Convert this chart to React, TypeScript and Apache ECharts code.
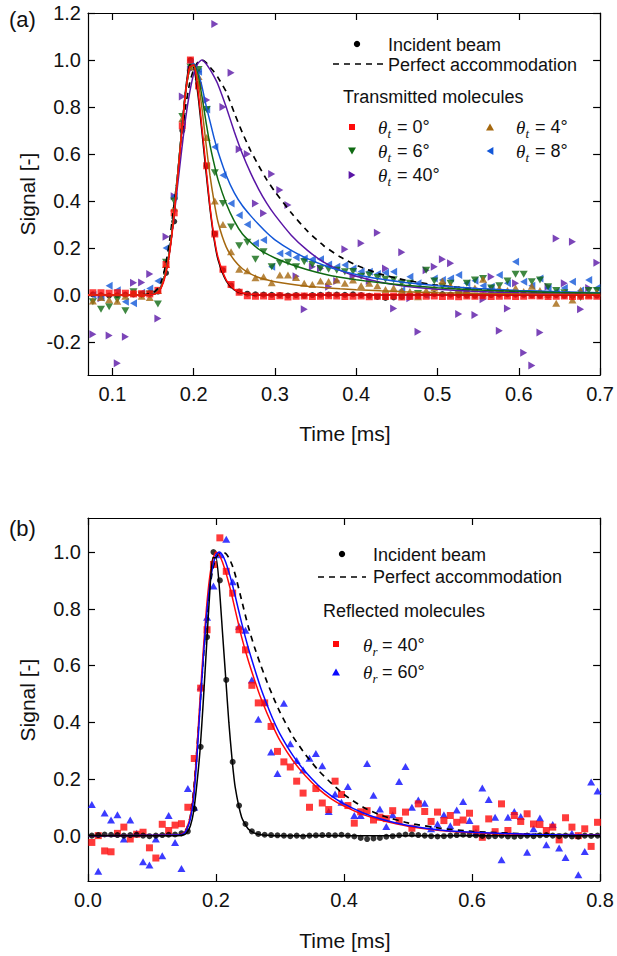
import React, { useEffect, useRef } from 'react';
import * as echarts from 'echarts';

// ---------------- Panel (a): transmitted molecules ----------------
const timeA = [
  0.076, 0.086, 0.096, 0.106, 0.116, 0.126, 0.136, 0.146, 0.156, 0.166,
  0.176, 0.186, 0.196, 0.206, 0.216, 0.226, 0.236, 0.246, 0.256, 0.266,
  0.276, 0.286, 0.296, 0.306, 0.316, 0.326, 0.336, 0.346, 0.356, 0.366,
  0.376, 0.386, 0.396, 0.406, 0.416, 0.426, 0.436, 0.446, 0.456, 0.466,
  0.476, 0.486, 0.496, 0.506, 0.516, 0.526, 0.536, 0.546, 0.556, 0.566,
  0.576, 0.586, 0.596, 0.606, 0.616, 0.626, 0.636, 0.646, 0.656, 0.666,
  0.676, 0.686, 0.696,
];
const theta0 = [
  0.01, 0.01, 0.008, 0.01, 0.008, 0.005, 0.006, 0.005,
  0.02, 0.13, 0.35, 0.72, 1.0, 0.89, 0.55, 0.26, 0.11, 0.045, 0.012, -0.003,
  -0.005, -0.004, -0.006, -0.003, -0.008, -0.005, -0.004, -0.006, -0.005, -0.003,
  -0.004, -0.006, -0.005, -0.004, -0.007, -0.005, -0.006, -0.004, -0.008, -0.006,
  -0.003, -0.005, -0.004, -0.006, -0.005, -0.007, -0.004, -0.005, -0.003, -0.006,
  -0.005, -0.004, -0.006, -0.005, -0.003, -0.004, -0.006, -0.005, -0.004, -0.006,
  -0.005, -0.004, -0.005,
];
const theta4 = [
  -0.025, -0.01, -0.02, -0.026, -0.005, 0.01, -0.005, -0.01,
  0.02, 0.13, 0.37, 0.75, 0.97, 0.93, 0.67, 0.4, 0.3, 0.184, 0.11, 0.104,
  0.074, 0.078, 0.052, 0.085, 0.085, 0.075, 0.05, 0.045, 0.06, 0.058,
  0.064, 0.05, 0.064, 0.04, 0.05, 0.04, 0.024, 0.03, 0.02, 0.015,
  -0.007, 0.02, 0.03, 0.06, 0.04, 0.025, 0.02, 0.03, 0.067, 0.02,
  0.028, 0.02, 0.03, 0.015, 0.038, 0.02, 0.005, -0.035, 0.01, -0.021,
  0.021, 0.0, 0.01,
];
const theta6 = [
  -0.028, -0.06, -0.05, -0.02, -0.067, 0.014, 0.0, 0.005,
  -0.038, 0.14, 0.4, 0.76, 0.97, 0.96, 0.79, 0.52, 0.39, 0.29, 0.21, 0.225,
  0.152, 0.184, 0.12, 0.135, 0.14, 0.12, 0.142, 0.13, 0.113, 0.11,
  0.106, 0.099, 0.1, 0.08, 0.085, 0.075, 0.067, 0.065, 0.05, 0.05,
  0.007, 0.106, 0.06, 0.038, 0.05, 0.0, 0.05, 0.064, 0.07, 0.03,
  0.04, 0.06, 0.089, 0.089, 0.057, 0.064, 0.035, 0.02, 0.01, -0.007,
  -0.01, 0.02, 0.02,
];
const theta8 = [
  0.0, -0.01, 0.04, 0.021, -0.028, -0.035, 0.01, 0.028,
  0.06, 0.2, 0.42, 0.74, 0.99, 0.95, 0.79, 0.63, 0.51, 0.39, 0.34, 0.3,
  0.22, 0.234, 0.12, 0.177, 0.177, 0.16, 0.156, 0.152, 0.152, 0.13,
  0.12, 0.128, 0.113, 0.1, 0.099, 0.09, 0.095, 0.099, 0.021, 0.078,
  0.05, 0.0, 0.071, 0.064, 0.07, 0.085, 0.05, 0.061, 0.04, 0.035,
  0.085, 0.05, 0.142, 0.057, 0.04, 0.071, 0.03, 0.014, 0.03, 0.057,
  0.02, 0.064, 0.03,
];
const theta40 = [
  -0.167, -0.014, -0.172, -0.29, -0.177, 0.052, 0.054, 0.09,
  -0.1, 0.248, 0.42, 0.845, 0.96, 0.95, 0.83, 1.153, 0.8, 0.946, 0.62, 0.6,
  0.39, 0.348, 0.515, 0.447, 0.383, 0.08, -0.06, 0.12, 0.113, 0.035,
  0.06, 0.195, 0.08, 0.22, 0.06, 0.265, 0.113, -0.057, 0.182, -0.014,
  -0.156, 0.106, 0.12, 0.152, 0.135, -0.081, 0.02, -0.085, -0.018, 0.078,
  -0.152, -0.057, 0.05, -0.245, -0.3, -0.159, 0.035, 0.241, 0.05, 0.227,
  -0.06, 0.03, 0.137,
];

const fitTimeA = [
  0.07, 0.14, 0.15, 0.155, 0.16, 0.165, 0.17, 0.175, 0.18, 0.185,
  0.19, 0.195, 0.2, 0.205, 0.21, 0.215, 0.22, 0.225, 0.23,
  0.24, 0.25, 0.26, 0.27, 0.28, 0.29, 0.3, 0.32, 0.34, 0.36,
  0.38, 0.4, 0.43, 0.46, 0.5, 0.55, 0.6, 0.65, 0.7,
];
const fitIncidentA = [
  0, 0, 0.003, 0.012, 0.035, 0.09, 0.18, 0.32, 0.5, 0.69, 0.87, 0.98, 0.97, 0.86, 0.7, 0.53, 0.37, 0.24, 0.15,
  0.06, 0.022, 0.008, 0.002, 0, 0, 0, 0, 0, 0, 0, 0, 0, 0, 0, 0, 0, 0, 0,
];
const fitTheta0 = [
  0, 0, 0.002, 0.01, 0.03, 0.08, 0.17, 0.31, 0.49, 0.68, 0.86, 0.97, 0.98, 0.88, 0.72, 0.55, 0.38, 0.25, 0.16,
  0.065, 0.024, 0.009, 0.003, 0, 0, 0, 0, 0, 0, 0, 0, 0, 0, 0, 0, 0, 0, 0,
];
const fitTheta4 = [
  0, 0, 0.003, 0.012, 0.035, 0.09, 0.18, 0.32, 0.5, 0.69, 0.86, 0.96, 0.975, 0.92, 0.8, 0.65, 0.51, 0.4, 0.31,
  0.205, 0.148, 0.112, 0.09, 0.075, 0.065, 0.057, 0.046, 0.038, 0.032, 0.027, 0.023, 0.018, 0.014, 0.01, 0.007, 0.005, 0.003, 0.002,
];
const fitTheta6 = [
  0, 0, 0.003, 0.012, 0.035, 0.09, 0.18, 0.32, 0.5, 0.69, 0.86, 0.96, 0.98, 0.94, 0.85, 0.74, 0.64, 0.56, 0.49,
  0.39, 0.315, 0.26, 0.225, 0.195, 0.175, 0.158, 0.13, 0.108, 0.09, 0.076, 0.065, 0.052, 0.042, 0.031, 0.022, 0.016, 0.011, 0.008,
];
const fitTheta8 = [
  0, 0, 0.003, 0.012, 0.035, 0.09, 0.18, 0.32, 0.5, 0.69, 0.86, 0.96, 0.985, 0.95, 0.89, 0.81, 0.74, 0.67, 0.61,
  0.51, 0.435, 0.38, 0.338, 0.3, 0.265, 0.235, 0.19, 0.155, 0.127, 0.105, 0.088, 0.068, 0.054, 0.04, 0.028, 0.02, 0.014, 0.01,
];
const fitTheta40 = [
  0, 0, 0.003, 0.012, 0.035, 0.09, 0.18, 0.31, 0.46, 0.61, 0.75, 0.86, 0.94, 0.985, 1.0, 0.985, 0.96, 0.93, 0.895,
  0.8, 0.695, 0.6, 0.52, 0.45, 0.39, 0.34, 0.255, 0.19, 0.14, 0.105, 0.08, 0.055, 0.038, 0.025, 0.015, 0.01, 0.006, 0.004,
];
const fitPerfectA = [
  0, 0.002, 0.01, 0.025, 0.055, 0.12, 0.22, 0.36, 0.5, 0.66, 0.8, 0.9, 0.96, 0.99, 1.0, 0.99, 0.97, 0.95, 0.925,
  0.865, 0.775, 0.69, 0.615, 0.55, 0.49, 0.44, 0.35, 0.272, 0.21, 0.163, 0.127, 0.089, 0.064, 0.042, 0.026, 0.016, 0.011, 0.008,
];

// ---------------- Panel (b): reflected molecules ----------------
const timeB = [
  0.006, 0.016, 0.026, 0.036, 0.046, 0.056, 0.066, 0.076, 0.086, 0.096,
  0.106, 0.116, 0.126, 0.136, 0.146, 0.156, 0.166, 0.176, 0.186, 0.196,
  0.206, 0.216, 0.226, 0.236, 0.246, 0.256, 0.266, 0.276, 0.286, 0.296,
  0.306, 0.316, 0.326, 0.336, 0.346, 0.356, 0.366, 0.376, 0.386, 0.396,
  0.406, 0.416, 0.426, 0.436, 0.446, 0.456, 0.466, 0.476, 0.486, 0.496,
  0.506, 0.516, 0.526, 0.536, 0.546, 0.556, 0.566, 0.576, 0.586, 0.596,
  0.606, 0.616, 0.626, 0.636, 0.646, 0.656, 0.666, 0.676, 0.686, 0.696,
  0.706, 0.716, 0.726, 0.736, 0.746, 0.756, 0.766, 0.776, 0.786, 0.796,
];
const incident = [
  0.0, 0.002, 0.004, 0.003, 0.002, 0.0, 0.002, 0.003, 0.0, -0.002,
  0.0, 0.002, 0.003, 0.004, 0.008, 0.015, 0.094, 0.313, 0.7, 1.0,
  0.9, 0.549, 0.26, 0.106, 0.041, 0.015, 0.006, 0.003, 0.002, 0.001,
  0.0, -0.002, 0.0, -0.003, 0.0, 0.001, 0.002, 0.002, 0.001, 0.003,
  0.0, -0.003, -0.008, -0.012, -0.01, -0.008, -0.004, -0.002, 0.001, 0.004,
  0.004, 0.002, 0.0, -0.002, -0.003, -0.002, 0.0, 0.002, 0.003, 0.002,
  0.001, -0.001, -0.003, -0.002, 0.0, -0.003, -0.004, -0.002, 0.0, -0.002,
  0.001, 0.002, 0.0, -0.002, 0.0, -0.003, -0.004, 0.0, -0.001, 0.0,
];
const thetaR40 = [
  -0.024, 0.0, -0.054, -0.057, 0.008, 0.03, -0.012, 0.005, 0.012, -0.043,
  -0.079, 0.04, 0.018, 0.037, 0.042, 0.1, 0.272, 0.52, 0.726, 0.956,
  1.05, 0.932, 0.855, 0.726, 0.655, 0.53, 0.468, 0.468, 0.385, 0.297,
  0.26, 0.242, 0.192, 0.15, 0.1, 0.166, 0.115, 0.092, 0.192, 0.145,
  0.106, 0.044, 0.084, 0.088, 0.055, 0.065, 0.06, 0.088, 0.053, 0.083,
  0.026, 0.112, 0.085, 0.05, 0.083, 0.053, 0.071, 0.047, 0.055, 0.079,
  0.024, -0.006, 0.059, 0.014, 0.112, 0.018, 0.071, 0.05, 0.077, 0.041,
  0.039, 0.018, 0.03, -0.015, 0.063, 0.03, 0.0, 0.024, -0.038, 0.047,
];
const thetaR60 = [
  0.11, -0.126, 0.08, 0.055, 0.074, -0.012, 0.055, 0.008, -0.092, -0.104,
  -0.012, -0.071, 0.071, -0.024, -0.116, 0.166, 0.1, 0.525, 0.77, 0.88,
  0.99, 1.045, 0.895, 0.738, 0.724, 0.549, 0.41, 0.47, 0.295, 0.219,
  0.467, 0.324, 0.265, 0.231, 0.273, 0.29, 0.246, 0.085, 0.147, 0.118,
  0.173, 0.071, 0.071, 0.254, 0.142, 0.094, 0.032, 0.074, 0.191, 0.244,
  0.1, 0.126, 0.114, 0.024, 0.041, 0.074, 0.035, 0.09, 0.12, 0.053,
  0.012, 0.168, 0.127, 0.065, -0.085, 0.065, 0.085, 0.067, -0.059, 0.024,
  0.062, -0.032, 0.039, -0.044, -0.077, 0.008, -0.138, -0.056, 0.189, 0.157,
];

const fitTimeB = [
  0, 0.14, 0.15, 0.155, 0.16, 0.165, 0.17, 0.175, 0.18, 0.185,
  0.19, 0.195, 0.2, 0.205, 0.21, 0.215, 0.22, 0.225, 0.23,
  0.24, 0.25, 0.26, 0.27, 0.28, 0.29, 0.3, 0.32, 0.34, 0.36,
  0.38, 0.4, 0.43, 0.46, 0.5, 0.55, 0.6, 0.7, 0.8,
];
const fitIncidentB = [
  0, 0, 0.003, 0.012, 0.035, 0.085, 0.18, 0.3, 0.47, 0.66, 0.85, 0.98, 0.98, 0.88, 0.72, 0.56, 0.4, 0.27, 0.17,
  0.065, 0.024, 0.009, 0.003, 0.001, 0, 0, 0, 0, 0, 0, 0, 0, 0, 0, 0, 0, 0, 0,
];
const fitR40 = [
  0, 0.002, 0.01, 0.03, 0.07, 0.15, 0.3, 0.48, 0.65, 0.8, 0.91, 0.975, 1.0, 0.99, 0.965, 0.93, 0.89, 0.845, 0.795,
  0.7, 0.62, 0.55, 0.485, 0.43, 0.38, 0.335, 0.265, 0.21, 0.165, 0.13, 0.104, 0.074, 0.053, 0.033, 0.018, 0.01, 0.003, 0.001,
];
const fitR60 = [
  0, 0.002, 0.008, 0.025, 0.06, 0.13, 0.27, 0.45, 0.62, 0.77, 0.88, 0.95, 0.99, 1.0, 0.99, 0.965, 0.93, 0.89, 0.845,
  0.75, 0.665, 0.59, 0.52, 0.46, 0.405, 0.358, 0.283, 0.224, 0.177, 0.14, 0.112, 0.08, 0.057, 0.036, 0.02, 0.012, 0.004, 0.001,
];
const fitPerfectB = [
  0, 0.002, 0.012, 0.03, 0.07, 0.16, 0.3, 0.46, 0.62, 0.76, 0.87, 0.94, 0.98, 0.995, 1.0, 0.995, 0.98, 0.955, 0.92,
  0.83, 0.74, 0.665, 0.6, 0.54, 0.485, 0.435, 0.35, 0.285, 0.23, 0.185, 0.145, 0.1, 0.07, 0.045, 0.026, 0.015, 0.005, 0.002,
];

// ---------------- Axis ticks ----------------
const xTicksA = [0.1, 0.2, 0.3, 0.4, 0.5, 0.6, 0.7];
const yTicksA = [-0.2, 0, 0.2, 0.4, 0.6, 0.8, 1.0, 1.2];
const xTicksB = [0, 0.2, 0.4, 0.6, 0.8];
const yTicksB = [0, 0.2, 0.4, 0.6, 0.8, 1.0];

// ---------------- Styling ----------------
const SANS = '"Liberation Sans", Arial, sans-serif';
const SERIF = '"Liberation Serif", "DejaVu Serif", serif';
const INK = '#111111';
const C = {
  black: '#000000',
  red: '#ff0a0a',
  brown: '#a5680f',
  green: '#0f6a12',
  blueA: '#1257d8',
  purple: '#5a16a6',
  blueB: '#0a0aff',
};
const SYM = {
  down: 'path://M0,0L2,0L1,1.8Z',
  left: 'path://M1.8,0L1.8,2L0,1Z',
  right: 'path://M0,0L1.8,1L0,2Z',
};

const zip = (xs: number[], ys: number[]) => xs.map((x, i) => [x, ys[i]]).filter((p) => p[1] !== undefined);

function axis(grid: number, pos: string, min: number, max: number, ticks: number[], labels: boolean, isX: boolean) {
  return {
    type: 'value',
    gridIndex: grid,
    position: pos,
    min,
    max,
    axisLine: { show: true, onZero: false, lineStyle: { color: '#000', width: 1.2 } },
    axisTick: { show: true, inside: true, length: 7, customValues: ticks, lineStyle: { color: '#000', width: 1.2 } },
    axisLabel: {
      show: labels,
      customValues: ticks,
      formatter: (v: number) => v.toFixed(1),
      fontSize: 20,
      fontFamily: SANS,
      color: INK,
      margin: isX ? 9 : 7,
    },
    splitLine: { show: false },
  };
}

function scatter(name: string, xi: number, xs: number[], ys: number[], symbol: string, size: number | number[], color: string) {
  return {
    name,
    type: 'scatter',
    xAxisIndex: xi,
    yAxisIndex: xi,
    data: zip(xs, ys),
    symbol,
    symbolSize: size,
    itemStyle: { color },
    clip: true,
    silent: true,
  };
}

function fit(name: string, xi: number, xs: number[], ys: number[], color: string, dashed = false) {
  return {
    name,
    type: 'line',
    xAxisIndex: xi,
    yAxisIndex: xi,
    data: zip(xs, ys),
    showSymbol: false,
    smooth: 0.2,
    clip: true,
    silent: true,
    lineStyle: { color, width: dashed ? 1.7 : 1.5, type: dashed ? [6, 5] : 'solid' },
  };
}

function txt(x: number, y: number, text: string, size = 18, extra: any = {}) {
  return {
    type: 'text',
    x,
    y,
    silent: true,
    style: { text, fontSize: size, fontFamily: SANS, fill: INK, align: 'left', verticalAlign: 'middle', ...extra },
  };
}

function thetaLabel(x: number, y: number, sub: string, rest: string) {
  return [
    txt(x, y, 'θ', 19, { fontFamily: SERIF, fontStyle: 'italic' }),
    txt(x + 9.5, y + 6, sub, 13, { fontFamily: SERIF, fontStyle: 'italic' }),
    txt(x + 19, y, rest, 18),
  ];
}

const tri = (cx: number, cy: number, dir: string, color: string, s = 4) => {
  const pts: Record<string, number[][]> = {
    up: [[cx - s, cy + s * 0.85], [cx + s, cy + s * 0.85], [cx, cy - s * 0.85]],
    down: [[cx - s, cy - s * 0.85], [cx + s, cy - s * 0.85], [cx, cy + s * 0.85]],
    left: [[cx + s * 0.85, cy - s], [cx + s * 0.85, cy + s], [cx - s * 0.85, cy]],
    right: [[cx - s * 0.85, cy - s], [cx - s * 0.85, cy + s], [cx + s * 0.85, cy]],
  };
  return { type: 'polygon', silent: true, shape: { points: pts[dir] }, style: { fill: color } };
};
const sq = (cx: number, cy: number, color: string, s = 3) => ({
  type: 'rect', silent: true, shape: { x: cx - s, y: cy - s, width: 2 * s, height: 2 * s }, style: { fill: color },
});
const dot = (cx: number, cy: number) => ({ type: 'circle', silent: true, shape: { cx, cy, r: 3.2 }, style: { fill: '#000' } });
const dash = (x1: number, x2: number, y: number) => ({
  type: 'line', silent: true, shape: { x1, y1: y, x2, y2: y }, style: { stroke: '#000', lineWidth: 1.6, lineDash: [6, 5] },
});

const graphics: any[] = [
  txt(9, 19, '(a)', 22),
  txt(9, 528, '(b)', 22),
  { ...txt(27, 194, 'Signal [-]', 21, { align: 'center' }), rotation: Math.PI / 2 },
  { ...txt(27, 700, 'Signal [-]', 21, { align: 'center' }), rotation: Math.PI / 2 },
  txt(345, 433, 'Time [ms]', 21, { align: 'center' }),
  txt(345, 940, 'Time [ms]', 21, { align: 'center' }),
  // legend (a)
  dot(357, 44),
  txt(388, 45, 'Incident beam'),
  dash(333, 383, 64),
  txt(388, 65, 'Perfect accommodation'),
  txt(343, 97, 'Transmitted molecules'),
  sq(352, 127, C.red),
  ...thetaLabel(378, 127, 't', '= 0°'),
  tri(490, 127, 'up', C.brown),
  ...thetaLabel(516, 127, 't', '= 4°'),
  tri(352, 151, 'down', C.green),
  ...thetaLabel(378, 151, 't', '= 6°'),
  tri(490, 151, 'left', C.blueA),
  ...thetaLabel(516, 151, 't', '= 8°'),
  tri(352, 175, 'right', C.purple),
  ...thetaLabel(378, 175, 't', '= 40°'),
  // legend (b)
  dot(342, 554),
  txt(373, 555, 'Incident beam'),
  dash(318, 366, 577),
  txt(373, 577, 'Perfect accommodation'),
  txt(323, 611, 'Reflected molecules'),
  sq(336, 644, C.red),
  ...thetaLabel(363, 645, 'r', '= 40°'),
  tri(336, 672, 'up', C.blueB),
  ...thetaLabel(363, 672, 'r', '= 60°'),
];

const option: any = {
  animation: false,
  backgroundColor: '#ffffff',
  textStyle: { fontFamily: SANS },
  grid: [
    { left: 88, top: 13, width: 514, height: 362 },
    { left: 88, top: 518, width: 514, height: 363 },
  ],
  xAxis: [
    axis(0, 'bottom', 0.07, 0.7, xTicksA, true, true),
    axis(0, 'top', 0.07, 0.7, xTicksA, false, true),
    axis(1, 'bottom', 0, 0.8, xTicksB, true, true),
    axis(1, 'top', 0, 0.8, xTicksB, false, true),
  ],
  yAxis: [
    axis(0, 'left', -0.34, 1.2, yTicksA, true, false),
    axis(0, 'right', -0.34, 1.2, yTicksA, false, false),
    axis(1, 'left', -0.16, 1.12, yTicksB, true, false),
    axis(1, 'right', -0.16, 1.12, yTicksB, false, false),
  ],
  series: [
    // panel (a) markers
    scatter('Incident beam (a)', 0, timeB, incident, 'circle', 6, C.black),
    scatter('θt = 40°', 0, timeA, theta40, SYM.right, [7, 8], C.purple),
    scatter('θt = 8°', 0, timeA, theta8, SYM.left, [7, 8], C.blueA),
    scatter('θt = 6°', 0, timeA, theta6, SYM.down, [8, 7], C.green),
    scatter('θt = 4°', 0, timeA, theta4, 'triangle', [8, 7], C.brown),
    scatter('θt = 0°', 0, timeA, theta0, 'rect', 7, C.red),
    // panel (a) fits
    fit('Perfect accommodation (a)', 0, fitTimeA, fitPerfectA, C.black, true),
    fit('fit incident (a)', 0, fitTimeA, fitIncidentA, C.black),
    fit('fit 40', 0, fitTimeA, fitTheta40, C.purple),
    fit('fit 8', 0, fitTimeA, fitTheta8, C.blueA),
    fit('fit 6', 0, fitTimeA, fitTheta6, C.green),
    fit('fit 4', 0, fitTimeA, fitTheta4, C.brown),
    fit('fit 0', 0, fitTimeA, fitTheta0, C.red),
    // panel (b) markers
    scatter('θr = 60°', 2, timeB, thetaR60, 'triangle', [8, 7], C.blueB),
    scatter('θr = 40°', 2, timeB, thetaR40, 'rect', 7, C.red),
    scatter('Incident beam (b)', 2, timeB, incident, 'circle', 6, C.black),
    // panel (b) fits
    fit('Perfect accommodation (b)', 2, fitTimeB, fitPerfectB, C.black, true),
    fit('fit r40', 2, fitTimeB, fitR40, C.red),
    fit('fit r60', 2, fitTimeB, fitR60, C.blueB),
    fit('fit incident (b)', 2, fitTimeB, fitIncidentB, C.black),
  ],
  graphic: { elements: graphics },
};

export default function App() {
  const ref = useRef<HTMLDivElement>(null);
  useEffect(() => {
    if (!ref.current) return;
    const chart = echarts.init(ref.current, null, { renderer: 'svg' });
    chart.setOption(option);
    return () => chart.dispose();
  }, []);
  return (
    <div
      ref={ref}
      style={{ position: 'fixed', left: 0, top: 0, width: 617, height: 956, background: '#fff' }}
    />
  );
}
